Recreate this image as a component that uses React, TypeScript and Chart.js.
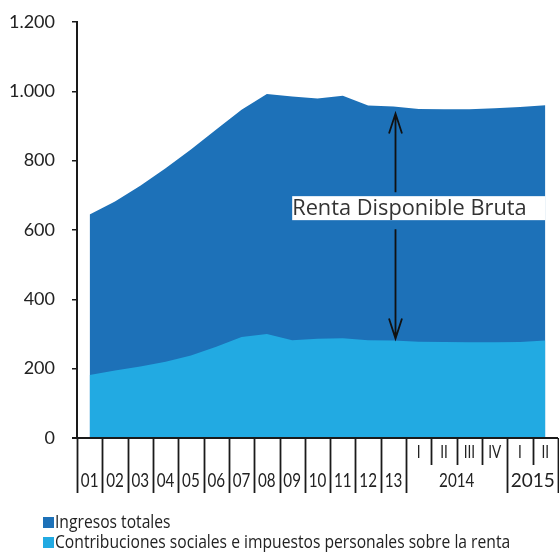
import React, { useEffect, useRef } from "react";
import { Chart, registerables } from "chart.js";

Chart.register(...registerables);

// ---- Data ----
const years = ["01", "02", "03", "04", "05", "06", "07", "08", "09", "10", "11", "12", "13"];
const quarters = ["I", "II", "III", "IV", "I", "II"];
const quarterYears = ["2014", "2014", "2014", "2014", "2015", "2015"];
const categories = [...years, ...quarters.map((q, i) => `${q} ${quarterYears[i]}`)];

const ingresosTotales = [645, 682, 728, 778, 832, 890, 947, 992, 985, 979, 987, 959, 956, 949, 948, 948, 951, 955, 960];
const contribuciones = [182, 195, 206, 220, 238, 263, 291, 300, 282, 286, 288, 282, 281, 278, 277, 276, 276, 277, 281];

const yTicks = [0, 200, 400, 600, 800, 1000, 1200];
const seriesNames = ["Ingresos totales", "Contribuciones sociales e impuestos personales sobre la renta"];
const annotationText = "Renta Disponible Bruta";
const annotationIndex = 12; // "13"
const annotationBoxFrom = 8;
const annotationBoxTo = 18;
const annotationBoxValue = 663;

const DARK = "#1d71b8";
const LIGHT = "#22aae2";
const INK = "#1a1a1a";
const TEXT = "#222222";

const fmt = (v: number) => String(v).replace(/\B(?=(\d{3})+(?!\d))/g, ".");

function condensedText(ctx: CanvasRenderingContext2D, text: string, x: number, y: number, sx: number, align: "left" | "center" | "right") {
  ctx.save();
  ctx.translate(x, y);
  ctx.scale(sx, 1);
  ctx.textAlign = align;
  ctx.fillText(text, 0, 0);
  ctx.restore();
}

const xAxisPlugin = {
  id: "multiLevelX",
  afterDraw(chart: any) {
    const { ctx, chartArea, scales } = chart;
    const x = scales.x;
    const n = categories.length;
    const half = (x.getPixelForValue(1) - x.getPixelForValue(0)) / 2;
    const edge = (i: number) => x.getPixelForValue(i) - half;
    const bottom = chartArea.bottom;
    const fullLen = 55;
    const shortLen = 27;
    ctx.save();
    ctx.strokeStyle = INK;
    ctx.lineWidth = 2;
    ctx.beginPath();
    ctx.moveTo(chartArea.left - 5, bottom);
    ctx.lineTo(edge(n), bottom);
    ctx.stroke();
    ctx.lineWidth = 1.8;
    for (let i = 0; i <= n; i++) {
      let len = fullLen;
      if (i > years.length && i < n) {
        const qi = i - years.length;
        if (quarterYears[qi] === quarterYears[qi - 1]) len = shortLen;
      }
      const px = Math.round(edge(i)) + 0.5;
      ctx.beginPath();
      ctx.moveTo(px, bottom);
      ctx.lineTo(px, bottom + len);
      ctx.stroke();
    }
    ctx.fillStyle = TEXT;
    ctx.textBaseline = "middle";
    ctx.font = "20px Lato";
    years.forEach((yl, i) => condensedText(ctx, yl, x.getPixelForValue(i), bottom + 43, 0.76, "center"));
    ctx.font = "17px Lato";
    quarters.forEach((q, qi) => condensedText(ctx, q, x.getPixelForValue(years.length + qi), bottom + 15, 0.8, "center"));
    ctx.font = "20px Lato";
    const groups: string[] = [];
    quarterYears.forEach((g) => { if (!groups.includes(g)) groups.push(g); });
    groups.forEach((g) => {
      const idx = quarterYears.map((q, i) => (q === g ? i + years.length : -1)).filter((i) => i >= 0);
      const cx = (edge(idx[0]) + edge(idx[idx.length - 1] + 1)) / 2;
      condensedText(ctx, g, cx, bottom + 43, g === "2015" ? 0.95 : 0.76, "center");
    });
    ctx.restore();
  },
};

const annotationPlugin = {
  id: "rdbAnnotation",
  afterDatasetsDraw(chart: any) {
    const { ctx, scales } = chart;
    const x = scales.x;
    const y = scales.y;
    const ax = Math.round(x.getPixelForValue(annotationIndex) + 2) + 0.5;
    const topY = y.getPixelForValue(ingresosTotales[annotationIndex]) + 7;
    const botY = y.getPixelForValue(contribuciones[annotationIndex]) - 2;
    const boxL = x.getPixelForValue(annotationBoxFrom);
    const boxR = x.getPixelForValue(annotationBoxTo);
    const boxC = y.getPixelForValue(annotationBoxValue);
    const boxH = 24;
    const boxT = boxC - boxH / 2;
    const boxB = boxC + boxH / 2;
    ctx.save();
    ctx.strokeStyle = "#111";
    ctx.lineWidth = 1.8;
    ctx.beginPath();
    ctx.moveTo(ax, topY);
    ctx.lineTo(ax, boxT - 4);
    ctx.moveTo(ax, boxB + 9);
    ctx.lineTo(ax, botY);
    ctx.moveTo(ax - 6.5, topY + 20);
    ctx.lineTo(ax, topY);
    ctx.lineTo(ax + 6.5, topY + 20);
    ctx.moveTo(ax - 6.5, botY - 20);
    ctx.lineTo(ax, botY);
    ctx.lineTo(ax + 6.5, botY - 20);
    ctx.stroke();
    ctx.fillStyle = "#ffffff";
    ctx.fillRect(boxL, boxT, boxR - boxL, boxH);
    ctx.fillStyle = "#333333";
    ctx.font = "22px 'Open Sans'";
    ctx.textBaseline = "middle";
    condensedText(ctx, annotationText, boxL, boxC + 1, 0.99, "left");
    ctx.restore();
  },
};

const legendPlugin = {
  id: "customLegend",
  afterDraw(chart: any) {
    const { ctx } = chart;
    const colors = [DARK, LIGHT];
    ctx.save();
    ctx.textBaseline = "alphabetic";
    ctx.font = "18px 'Open Sans'";
    seriesNames.forEach((name, i) => {
      const yTop = 517 + i * 20;
      ctx.fillStyle = colors[i];
      ctx.fillRect(43, yTop, 11, 11);
      ctx.fillStyle = "#222";
      condensedText(ctx, name, 55, yTop + 11, 0.87, "left");
    });
    ctx.restore();
  },
};

export default function App() {
  const ref = useRef<HTMLCanvasElement | null>(null);
  useEffect(() => {
    if (!ref.current) return;
    const chart = new Chart(ref.current, {
      type: "line",
      data: {
        labels: categories,
        datasets: [
          {
            label: seriesNames[0],
            data: ingresosTotales,
            fill: "origin",
            backgroundColor: DARK,
            borderColor: DARK,
            borderWidth: 0,
            pointRadius: 0,
            tension: 0,
            order: 2,
          },
          {
            label: seriesNames[1],
            data: contribuciones,
            fill: "origin",
            backgroundColor: LIGHT,
            borderColor: LIGHT,
            borderWidth: 0,
            pointRadius: 0,
            tension: 0,
            order: 1,
          },
        ],
      },
      options: {
        responsive: false,
        animation: false,
        layout: { padding: { left: 0, right: 1, top: 22, bottom: 114 } },
        plugins: { legend: { display: false }, tooltip: { enabled: false } },
        scales: {
          x: { type: "category", display: false, offset: true },
          y: {
            min: 0,
            max: 1200,
            afterFit: (s: any) => {
              s.width = 77;
              s.paddingTop = 0;
              s.paddingBottom = 0;
            },
            afterBuildTicks: (s: any) => { s.ticks = yTicks.map((v) => ({ value: v })); },
            ticks: {
              callback: (v: any) => fmt(Number(v)),
              color: TEXT,
              font: { family: "Lato", size: 18 },
              padding: 17,
            },
            grid: { drawOnChartArea: false, drawTicks: true, tickLength: 5, color: INK, lineWidth: 1.5 },
            border: { display: true, color: INK, width: 2 },
          },
        },
      },
      plugins: [annotationPlugin, xAxisPlugin, legendPlugin],
    });
    return () => chart.destroy();
  }, []);
  return (
    <div style={{ position: "fixed", left: 0, top: 0, width: 559, height: 552, background: "#fff" }}>
      <canvas ref={ref} width={559} height={552} style={{ display: "block" }} />
    </div>
  );
}
